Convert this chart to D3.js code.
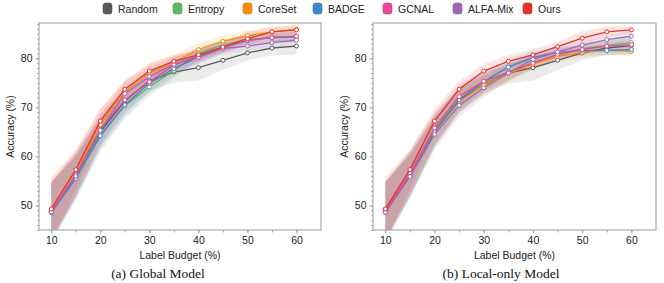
<!DOCTYPE html>
<html>
<head>
<meta charset="utf-8">
<script src="https://cdn.jsdelivr.net/npm/d3@7"></script>
<style>
  body { margin: 0; background: #fff; }
  svg { display: block; }
  text { font-family: "Liberation Sans", Arial, sans-serif; }
</style>
</head>
<body>
<div class="chart_wrapper"></div>
<script>
// label budget (%)
const budgets = [10, 15, 20, 25, 30, 35, 40, 45, 50, 55, 60]

const methods = ["Random", "Entropy", "CoreSet", "BADGE", "GCNAL", "ALFA-Mix", "Ours"]
const colors = ["#5a5a5a", "#5cb85c", "#fb8c00", "#3d87c6", "#f0449a", "#a466b4", "#e8312a"]

// (a) Global Model
const globalRandom  = [48.8, 56.0, 65.0, 71.3, 75.4, 77.2, 78.1, 79.6, 81.1, 82.1, 82.5]
const globalEntropy = [48.7, 56.0, 64.5, 70.3, 74.2, 77.5, 81.0, 82.7, 83.9, 84.1, 84.3]
const globalCoreSet = [48.9, 56.5, 66.5, 73.2, 77.0, 79.2, 81.8, 83.5, 84.6, 85.4, 85.9]
const globalBADGE   = [48.5, 55.5, 64.2, 70.5, 74.9, 77.9, 80.3, 82.2, 83.6, 84.3, 84.5]
const globalGCNAL   = [48.8, 56.3, 65.5, 71.5, 75.2, 78.6, 80.5, 82.3, 83.7, 84.2, 84.5]
const globalALFA    = [48.7, 56.0, 65.3, 72.8, 76.3, 78.8, 80.2, 82.0, 82.5, 83.2, 83.7]
const globalOurs    = [49.3, 57.3, 67.2, 73.7, 77.4, 79.4, 80.7, 82.3, 84.0, 85.4, 85.8]

// (b) Local-only Model
const localRandom  = [48.9, 56.3, 65.2, 71.5, 74.8, 77.0, 78.1, 79.6, 81.1, 82.1, 82.6]
const localEntropy = [48.8, 56.5, 65.5, 71.7, 74.8, 77.2, 79.1, 80.7, 81.9, 82.7, 83.2]
const localCoreSet = [48.9, 56.4, 65.0, 71.2, 74.5, 76.9, 78.8, 80.4, 81.2, 81.6, 81.4]
const localBADGE   = [48.6, 56.0, 65.0, 71.5, 75.3, 78.2, 80.2, 81.2, 81.6, 81.6, 81.8]
const localGCNAL   = [48.8, 56.6, 65.8, 72.2, 75.3, 77.2, 79.0, 80.8, 81.8, 82.5, 82.8]
const localALFA    = [48.6, 55.9, 64.5, 70.4, 74.0, 77.0, 79.8, 81.3, 82.7, 83.8, 84.5]
const localOurs    = [49.3, 57.3, 67.2, 73.7, 77.4, 79.4, 80.7, 82.4, 84.1, 85.4, 85.8]

// std (shaded bands), same for both panels
const stdRandom = [6.0, 4.0, 3.0, 2.5, 2.0, 2.2, 2.6, 2.0, 1.5, 1.5, 1.7]
const stdOther  = [6.0, 4.5, 3.2, 2.5, 2.0, 1.6, 1.3, 1.1, 1.0, 1.0, 1.0]
const stdOurs   = [6.5, 4.0, 2.5, 1.6, 1.5, 1.3, 1.2, 1.0, 1.4, 1.0, 0.9]

const xTicks = [10, 20, 30, 40, 50, 60]
const yTicks = [50, 60, 70, 80]

const panels = [
  { caption: "(a) Global Model", left: 39, right: 321, capX: 158,
    series: [globalRandom, globalEntropy, globalCoreSet, globalBADGE, globalGCNAL, globalALFA, globalOurs] },
  { caption: "(b) Local-only Model", left: 373, right: 656, capX: 501,
    series: [localRandom, localEntropy, localCoreSet, localBADGE, localGCNAL, localALFA, localOurs] }
]

const stds = [stdRandom, stdOther, stdOther, stdOther, stdOther, stdOther, stdOurs]

const svg = d3.select(".chart_wrapper")
  .append("svg")
    .attr("width", 664)
    .attr("height", 283)

const plotTop = 23, plotBottom = 230

panels.forEach((p, pi) => {

  const xScale = d3.scaleLinear().domain([7.5, 65]).range([p.left, p.right])
  const yScale = d3.scaleLinear().domain([45, 87.2]).range([plotBottom, plotTop])

  const clipId = "clip" + pi
  svg.append("clipPath").attr("id", clipId)
    .append("rect")
      .attr("x", p.left).attr("y", plotTop)
      .attr("width", p.right - p.left).attr("height", plotBottom - plotTop)

  const g = svg.append("g")

  // bands
  const area = d3.area()
    .x((d, i) => xScale(budgets[i]))
    .y0(d => yScale(d[0]))
    .y1(d => yScale(d[1]))

  const bands = g.append("g").attr("clip-path", `url(#${clipId})`)
  p.series.forEach((s, k) => {
    bands.append("path")
      .datum(s.map((v, i) => [v - stds[k][i], v + stds[k][i]]))
      .attr("d", area)
      .attr("fill", colors[k])
      .attr("opacity", 0.12)
  })

  // axes
  const axisColor = "#999"
  const xMinor = d3.axisBottom(xScale).tickValues(d3.range(10, 65, 5)).tickSize(2.5).tickFormat("")
  const xAxis = d3.axisBottom(xScale).tickValues(xTicks).tickSize(3.5).tickPadding(3)
  const yMinor = d3.axisLeft(yScale).tickValues(d3.range(45, 88, 1)).tickSize(2).tickFormat("")
  const yAxis = d3.axisLeft(yScale).tickValues(yTicks).tickSize(3.5).tickPadding(3)

  g.append("g").attr("transform", `translate(0,${plotBottom})`).call(xMinor)
  g.append("g").attr("transform", `translate(0,${plotBottom})`).call(xAxis)
  g.append("g").attr("transform", `translate(${p.left},0)`).call(yMinor)
  g.append("g").attr("transform", `translate(${p.left},0)`).call(yAxis)

  g.selectAll(".domain").remove()
  g.selectAll(".tick line").attr("stroke", axisColor).attr("stroke-width", 0.8)
  g.selectAll(".tick text").attr("font-size", 10.5).attr("fill", "#222")
    .style("font-family", "'Liberation Sans', Arial, sans-serif")

  g.append("rect")
    .attr("x", p.left).attr("y", plotTop)
    .attr("width", p.right - p.left).attr("height", plotBottom - plotTop)
    .attr("fill", "none").attr("stroke", axisColor).attr("stroke-width", 1)

  // lines + markers
  const line = d3.line().x((d, i) => xScale(budgets[i])).y(d => yScale(d))
  p.series.forEach((s, k) => {
    g.append("path")
      .datum(s)
      .attr("d", line)
      .attr("fill", "none")
      .attr("stroke", colors[k])
      .attr("stroke-width", 1.3)

    g.selectAll(null)
      .data(s)
      .enter()
      .append("circle")
        .attr("cx", (d, i) => xScale(budgets[i]))
        .attr("cy", d => yScale(d))
        .attr("r", 2)
        .attr("fill", "#fff")
        .attr("stroke", colors[k])
        .attr("stroke-width", 1)
  })

  // labels
  g.append("text")
    .attr("x", (p.left + p.right) / 2).attr("y", 259)
    .attr("text-anchor", "middle").attr("font-size", 10.5).attr("fill", "#222")
    .text("Label Budget (%)")

  g.append("text")
    .attr("transform", `translate(${p.left - 25},${(plotTop + plotBottom) / 2}) rotate(-90)`)
    .attr("text-anchor", "middle").attr("font-size", 10.5).attr("fill", "#222")
    .text("Accuracy (%)")

  g.append("text")
    .attr("x", p.capX).attr("y", 278)
    .attr("text-anchor", "middle").attr("font-size", 13.5).attr("fill", "#111")
    .style("font-family", "'Liberation Serif', 'Times New Roman', serif")
    .text(p.caption)
})

// legend
const legend = svg.append("g")
const legendX = d3.scalePoint().domain(methods).range([103, 523])

methods.forEach((m, k) => {
  const lg = legend.append("g").attr("transform", `translate(${legendX(m)},3)`)
  lg.append("rect")
    .attr("width", 9).attr("height", 11).attr("rx", 2.5)
    .attr("fill", colors[k]).attr("stroke", d3.color(colors[k]).darker(0.6)).attr("stroke-width", 0.5)
  lg.append("text")
    .attr("x", 15).attr("y", 9.5)
    .attr("font-size", 10.5).attr("fill", "#222")
    .text(m)
})
</script>
</body>
</html>
